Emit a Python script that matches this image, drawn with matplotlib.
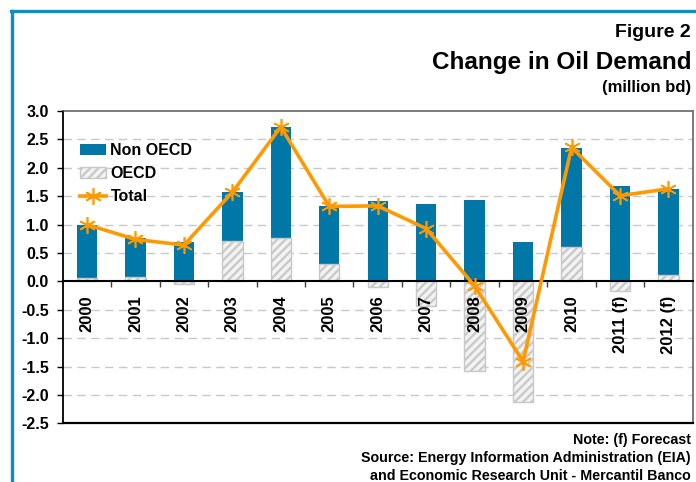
import matplotlib
matplotlib.use("Agg")
import matplotlib.pyplot as plt
from matplotlib.lines import Line2D
import numpy as np

plt.rcParams['font.family'] = ['Liberation Sans', 'DejaVu Sans']
plt.rcParams['font.weight'] = 'bold'
plt.rcParams['hatch.linewidth'] = 1.6

years = ['2000', '2001', '2002', '2003', '2004', '2005', '2006',
         '2007', '2008', '2009', '2010', '2011 (f)', '2012 (f)']
non_oecd = [0.94, 0.68, 0.70, 0.86, 1.96, 1.02, 1.42, 1.37, 1.44, 0.70, 1.75, 1.68, 1.52]
oecd = [0.06, 0.08, -0.05, 0.72, 0.76, 0.31, -0.09, -0.43, -1.57, -2.12, 0.60, -0.17, 0.11]
total = [1.00, 0.74, 0.64, 1.57, 2.72, 1.32, 1.33, 0.93, -0.08, -1.41, 2.36, 1.51, 1.63]

blue = '#0077a6'
orange = '#ff9900'
frame_blue = '#0b8ec5'

x = np.arange(len(years))
base = np.maximum(np.array(oecd), 0)
yticks = np.arange(-2.5, 3.01, 0.5)

fig = plt.figure(figsize=(6.96, 4.82), dpi=100)
ax = fig.add_axes([0.0901, 0.1214, 0.9953 - 0.0901, 0.7697 - 0.1214])

# dashed grid behind the bars; axis (and tick labels) sit above the bars
for v in yticks[1:-1]:
    if abs(v) > 1e-9:
        ax.axhline(v, linestyle=(0, (6, 4)), color='#c8c8c8', lw=1, zorder=1)
ax.set_axisbelow(False)

w = 0.42
b1 = ax.bar(x, non_oecd, w, bottom=base, color=blue, label='Non OECD', zorder=2)
b2 = ax.bar(x, oecd, w, color='#f2f2f2', edgecolor='#c8c8c8', hatch='////',
            linewidth=1, label='OECD', zorder=2)
l1, = ax.plot(x, total, color=orange, lw=2.6, marker=(6, 2, 0), markersize=12,
              markeredgewidth=1.2, markeredgecolor=orange, label='Total', zorder=3)

ax.set_xlim(-0.5, len(years) - 0.5)
ax.set_ylim(-2.5, 3.0)
ax.set_yticks(yticks)
ax.set_yticklabels(['%.1f' % v for v in yticks], fontsize=11.5, fontweight='bold')
ax.tick_params(axis='y', direction='out', length=4, width=1, pad=6)

# category labels hang below the zero line, ticks mark the boundaries
ax.spines['bottom'].set_position(('data', 0))
ax.spines['bottom'].set_linewidth(1.5)
ax.set_xticks(x)
ax.set_xticklabels(years, rotation=90, fontsize=12, fontweight='bold', va='top')
ax.set_xticks(np.arange(0.5, len(years) - 0.5, 1), minor=True)
ax.tick_params(axis='x', which='major', length=0, pad=10)
ax.tick_params(axis='x', which='minor', direction='out', length=4, width=1, color='#404040')
ax.axhline(-2.5, color='black', lw=1.6, clip_on=False, zorder=4)

ax.spines['left'].set_linewidth(1.3)
for s in ('top', 'right'):
    ax.spines[s].set_color('#707070')
    ax.spines[s].set_linewidth(1.3)

ax.legend([b1, b2, l1], ['Non OECD', 'OECD', 'Total'],
          loc='upper left', bbox_to_anchor=(0.0275, 0.897), frameon=False,
          fontsize=11.5, handlelength=1.6, handleheight=0.65, handletextpad=0.3,
          labelspacing=0.5, borderpad=0, borderaxespad=0)

fig.add_artist(Line2D([10.5 / 696, 1], [1 - 11 / 482, 1 - 11 / 482],
                      color=frame_blue, lw=2.4, transform=fig.transFigure))
fig.add_artist(Line2D([11.5 / 696, 11.5 / 696], [0, 1 - 11 / 482],
                      color=frame_blue, lw=2.4, transform=fig.transFigure))

rx = 691 / 696
fig.text(rx, 1 - 37 / 482, 'Figure 2', ha='right', va='baseline', fontsize=14, fontweight='bold')
fig.text(rx, 1 - 69 / 482, 'Change in Oil Demand', ha='right', va='baseline',
         fontsize=17.5, fontweight='bold')
fig.text(rx, 1 - 92 / 482, '(million bd)', ha='right', va='baseline', fontsize=12, fontweight='bold')

fig.text(rx, 1 - 444 / 482, 'Note: (f) Forecast', ha='right', va='baseline',
         fontsize=10.3, fontweight='bold')
fig.text(rx, 1 - 462 / 482, 'Source: Energy Information Administration (EIA)',
         ha='right', va='baseline', fontsize=10.3, fontweight='bold')
fig.text(rx, 1 - 479.5 / 482, 'and Economic Research Unit - Mercantil Banco',
         ha='right', va='baseline', fontsize=10.3, fontweight='bold')

fig.savefig('out.png', dpi=100)
